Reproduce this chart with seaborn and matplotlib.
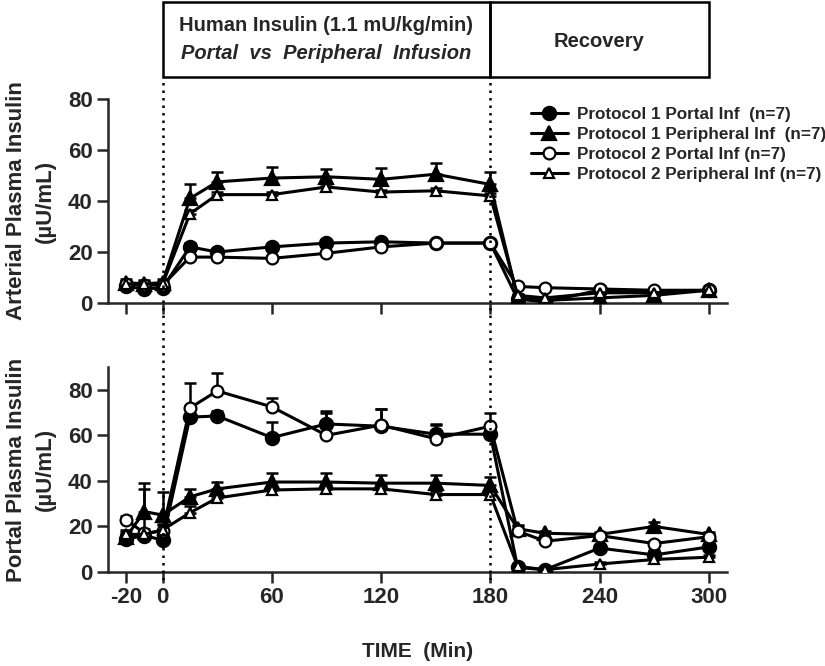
import numpy as np
import matplotlib
matplotlib.use("Agg")
import matplotlib.pyplot as plt
from matplotlib.patches import Rectangle
from matplotlib.lines import Line2D
import seaborn as sns

sns.set_style("ticks")
plt.rcParams['font.family'] = ['Liberation Sans', 'DejaVu Sans']
plt.rcParams['font.weight'] = 'bold'

# time points (min)
time = [-20, -10, 0, 15, 30, 60, 90, 120, 150, 180, 195, 210, 240, 270, 300]
xticks = [-20, 0, 60, 120, 180, 240, 300]

labels = ["Protocol 1 Portal Inf  (n=7)", "Protocol 1 Peripheral Inf  (n=7)",
          "Protocol 2 Portal Inf (n=7)", "Protocol 2 Peripheral Inf (n=7)"]

# arterial plasma insulin (uU/mL), mean and SE
art_p1_portal = [6.5, 5.5, 6, 22, 20, 22, 23.5, 24, 23.5, 23.5, 1.5, 0.5, 5, 4.5, 5]
art_p1_portal_se = [1, 1, 1, 1.5, 1, 1, 1, 1, 1, 1, 0.5, 0.3, 0.5, 0.5, 0.5]
art_p1_periph = [8, 7.5, 8, 41, 47.5, 49, 49.5, 48.5, 50.5, 46.5, 2, 1, 2, 3, 5]
art_p1_periph_se = [1.5, 1.5, 1.5, 5.5, 4, 4.5, 3, 4.5, 4.5, 5, 1, 0.5, 0.5, 0.5, 1]
art_p2_portal = [7.5, 7, 7, 18, 18, 17.5, 19.5, 22, 23.5, 23.5, 6.5, 6, 5.5, 5, 5]
art_p2_portal_se = [1, 1, 1, 1, 1, 1, 1, 1, 1, 1, 1, 0.5, 0.5, 0.5, 0.5]
art_p2_periph = [7.5, 7.5, 7.5, 35, 42.5, 42.5, 45.5, 43.5, 44, 42, 3, 2, 4, 4, 5]
art_p2_periph_se = [1, 1, 1, 1.5, 1, 1, 1, 1, 1, 1, 0.5, 0.5, 0.5, 0.5, 0.5]

# portal plasma insulin (uU/mL), mean and SE
por_p1_portal = [14.5, 16, 14, 68, 68.5, 59, 65, 64, 60.5, 60.5, 2, 1, 10.5, 7.5, 11]
por_p1_portal_se = [2, 2, 2, 5, 2, 7, 5.5, 7.5, 4.5, 2, 1, 0.5, 1.5, 2, 2]
por_p1_periph = [15.5, 26.5, 25, 33, 36.5, 39.5, 39.5, 39, 39, 38, 19, 17, 16.5, 20, 16.5]
por_p1_periph_se = [2, 12.5, 10, 3.5, 3, 4, 4, 3.5, 3.5, 3.5, 1.5, 1, 1, 2, 1]
por_p2_portal = [23, 17, 18, 72, 79.5, 72.5, 60, 64.5, 58.5, 64, 18, 13.5, 16, 12.5, 15.5]
por_p2_portal_se = [1.5, 2, 3, 11, 8, 4, 10, 7, 6, 6, 2, 1, 1, 1, 1]
por_p2_periph = [16.5, 16.5, 18.5, 26, 32.5, 36, 36.5, 36.5, 34, 34, 2.5, 1, 3.5, 5.5, 6.5]
por_p2_periph_se = [2, 20, 2, 3, 2, 1.5, 1.5, 1.5, 1.5, 1.5, 1, 0.5, 1, 1, 1]

styles = [('o', 'black', 9.5), ('^', 'black', 9.5), ('o', 'white', 8.5), ('^', 'white', 7.5)]

W, H = 825, 666
fig = plt.figure(figsize=(W / 100, H / 100), dpi=100)


def px_axes(left, top, right, bottom):
    return fig.add_axes([left / W, 1 - bottom / H, (right - left) / W, (bottom - top) / H])


ax_top = px_axes(108, 99, 727, 303)
ax_bot = px_axes(108, 367, 727, 572)

panels = [
    (ax_top, [art_p1_portal, art_p1_periph, art_p2_portal, art_p2_periph],
     [art_p1_portal_se, art_p1_periph_se, art_p2_portal_se, art_p2_periph_se],
     (0, 80), "Arterial Plasma Insulin\n(\u00b5U/mL)"),
    (ax_bot, [por_p1_portal, por_p1_periph, por_p2_portal, por_p2_periph],
     [por_p1_portal_se, por_p1_periph_se, por_p2_portal_se, por_p2_periph_se],
     (0, 90), "Portal Plasma Insulin\n(\u00b5U/mL)"),
]

for ax, series, ses, ylim, ylabel in panels:
    for vals, se, (mk, fc, ms) in zip(series, ses, styles):
        ax.errorbar(time, vals, yerr=[np.zeros(len(se)), se], fmt='none', ecolor='black',
                    elinewidth=1.8, capsize=4.5, capthick=1.8, zorder=2)
        sns.lineplot(x=time, y=vals, ax=ax, color='black', marker=mk, markerfacecolor=fc,
                     markeredgecolor='black', markeredgewidth=1.6, markersize=ms,
                     linewidth=2.2, zorder=3)
    ax.set_xlim(-30, 310)
    ax.set_ylim(*ylim)
    ax.set_yticks([0, 20, 40, 60, 80])
    ax.set_xticks(xticks)
    ax.set_ylabel(ylabel, fontsize=16, fontweight='bold', linespacing=1.45, labelpad=9)
    ax.tick_params(axis='both', direction='out', length=8, width=1.8, labelsize=16, pad=3)
    for s in ['left', 'bottom']:
        ax.spines[s].set_linewidth(1.8)
    sns.despine(ax=ax)
    ax.patch.set_alpha(0)

ax_top.set_xticklabels([])
ax_top.set_xlabel("")
ax_bot.set_xticklabels([str(v) for v in xticks], fontweight='bold')
ax_bot.set_xlabel("TIME  (Min)", fontsize=15, fontweight='bold', labelpad=24)
for ax in (ax_top, ax_bot):
    for lab in ax.get_yticklabels():
        lab.set_fontweight('bold')

# header box
ax_head = px_axes(108, 2, 727, 77)
ax_head.set_xlim(-30, 310)
ax_head.set_ylim(0, 1)
ax_head.axis('off')
ax_head.add_patch(Rectangle((0, 0), 180, 1, fill=False, lw=1.8, ec='black', clip_on=False))
ax_head.add_patch(Rectangle((180, 0), 120, 1, fill=False, lw=1.8, ec='black', clip_on=False))
ax_head.text(90, 0.69, "Human Insulin (1.1 mU/kg/min)", ha='center', va='center',
             fontsize=14.5, fontweight='bold')
ax_head.text(90, 0.31, "Portal  vs  Peripheral  Infusion", ha='center', va='center',
             fontsize=14.5, fontweight='bold', style='italic')
ax_head.text(240, 0.47, "Recovery", ha='center', va='center', fontsize=14.5, fontweight='bold')

# dotted guide lines at start / end of infusion
ax_lines = px_axes(108, 77, 727, 580)
ax_lines.set_xlim(-30, 310)
ax_lines.set_ylim(0, 1)
ax_lines.axis('off')
for xv in (0, 180):
    ax_lines.axvline(xv, color='black', ls=(0, (1, 2)), lw=1.8)

handles = [Line2D([], [], color='black', marker=mk, markerfacecolor=fc, markeredgecolor='black',
                  markeredgewidth=1.6, markersize=ms, linewidth=2.2)
           for (mk, fc, ms) in styles]
fig.legend(handles, labels, loc='upper left', bbox_to_anchor=(522 / W, 1 - 98 / H),
           frameon=False, handlelength=2.2, handletextpad=0.5,
           labelspacing=0.3, borderpad=0, prop={'weight': 'bold', 'size': 12.3})

fig.savefig("out.png", dpi=100)
